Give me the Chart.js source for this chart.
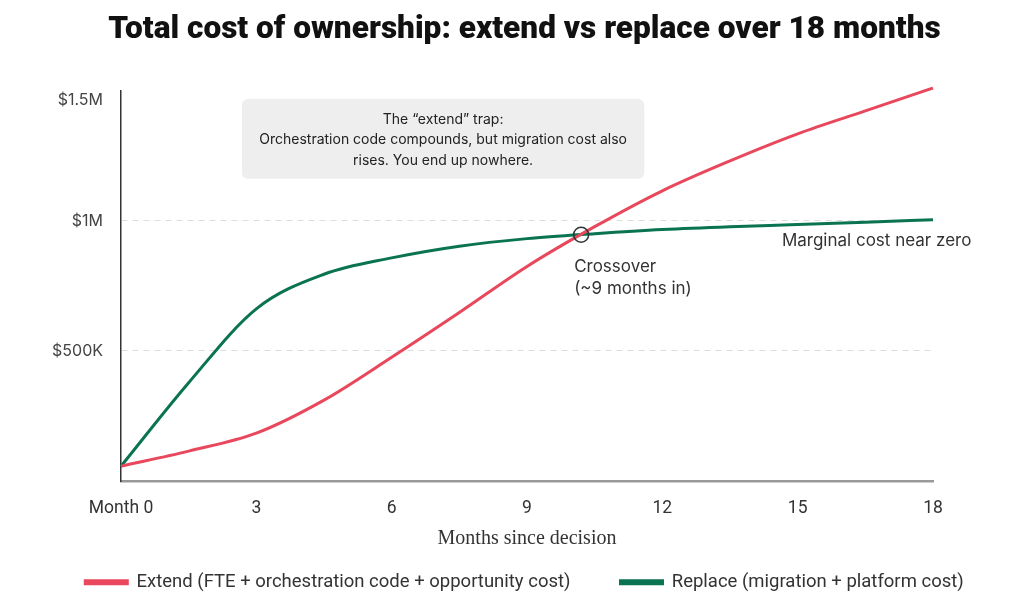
<!DOCTYPE html>
<html>
<head>
<meta charset="utf-8">
<script src="https://cdn.jsdelivr.net/npm/chart.js@4"></script>
<style>
  html, body { margin: 0; padding: 0; background: #fff; }
  canvas { display: block; }
</style>
</head>
<body>
<canvas id="c" width="1024" height="606"></canvas>
<script>
// ---- data ----
const months = [0, 1.5, 3, 4.5, 6, 7.5, 9, 10.5, 12, 13.5, 15, 16.5, 18];
const extendCost = [57000, 115000, 184000, 311000, 476000, 648000, 825000, 978000, 1116000, 1231000, 1335000, 1423000, 1511000];
const replaceCost = [57000, 378000, 662000, 795000, 858000, 903000, 932000, 951000, 967000, 978000, 986000, 995000, 1005000];
const yTickValues = [500000, 1000000, 1500000];
const yTickLabels = ['$500K', '$1M', '$1.5M'];
const seriesNames = ['Extend (FTE + orchestration code + opportunity cost)', 'Replace (migration + platform cost)'];
const titleText = 'Total cost of ownership: extend vs replace over 18 months';
const xTitle = 'Months since decision';
const crossover = { x: 10.2, y: 947000 };
const calloutLines = ['The \u201cextend\u201d trap:', 'Orchestration code compounds, but migration cost also', 'rises. You end up nowhere.'];
const crossoverLabel = ['Crossover', '(~9 months in)'];
const marginalLabel = 'Marginal cost near zero';

const RED = '#e8475c';
const GREEN = '#0a7352';

const pts = arr => months.map((m, i) => ({ x: m, y: arr[i] }));

const annotPlugin = {
  id: 'annot',
  afterDatasetsDraw(chart) {
    const { ctx, scales: { x, y } } = chart;
    ctx.save();
    // callout box
    const bx = x.getPixelForValue(2.68), by = y.getPixelForValue(1469000);
    const bx2 = x.getPixelForValue(11.6), by2 = y.getPixelForValue(1162000);
    ctx.fillStyle = '#eeeeee';
    ctx.beginPath();
    ctx.roundRect(bx, by, bx2 - bx, by2 - by, 6);
    ctx.fill();
    ctx.fillStyle = '#222';
    ctx.font = '14px Inter';
    ctx.textAlign = 'center';
    ctx.textBaseline = 'middle';
    const cx = (bx + bx2) / 2;
    calloutLines.forEach((t, i) => ctx.fillText(t, cx, by + 20.5 + i * 20.5));
    // crossover circle
    const px = x.getPixelForValue(crossover.x), py = y.getPixelForValue(crossover.y);
    ctx.strokeStyle = '#333';
    ctx.lineWidth = 1.5;
    ctx.beginPath();
    ctx.arc(px, py, 7.5, 0, Math.PI * 2);
    ctx.stroke();
    ctx.fillStyle = '#333';
    ctx.font = '17px Inter';
    ctx.textAlign = 'left';
    ctx.fillText(crossoverLabel[0], px - 7, py + 32);
    ctx.fillText(crossoverLabel[1], px - 7, py + 54);
    // marginal label
    ctx.fillText(marginalLabel, x.getPixelForValue(14.65), y.getPixelForValue(924000));
    ctx.restore();
  }
};

new Chart(document.getElementById('c'), {
  type: 'line',
  data: {
    datasets: [
      { label: seriesNames[0], data: pts(extendCost), borderColor: RED, backgroundColor: RED, borderWidth: 3, pointRadius: 0, cubicInterpolationMode: 'monotone', clip: false },
      { label: seriesNames[1], data: pts(replaceCost), borderColor: GREEN, backgroundColor: GREEN, borderWidth: 3, pointRadius: 0, cubicInterpolationMode: 'monotone', clip: false }
    ]
  },
  plugins: [annotPlugin],
  options: {
    responsive: false,
    animation: false,
    devicePixelRatio: 1,
    layout: { padding: { left: 25, right: 0, top: 0, bottom: 4.5 } },
    plugins: {
      title: {
        display: true, text: titleText, color: '#111',
        font: { family: 'Roboto', size: 31.6, weight: '900' },
        padding: { top: 11, bottom: 42 }
      },
      legend: {
        position: 'bottom',
        labels: {
          color: '#333', font: { family: 'Roboto', size: 18.5 },
          boxWidth: 42, boxHeight: 3, padding: 50
        }
      },
      tooltip: { enabled: false }
    },
    scales: {
      x: {
        type: 'linear', min: 0, max: 18,
        border: { display: true, color: '#999', width: 2.5 },
        grid: { display: false, drawTicks: false },
        ticks: {
          stepSize: 3, padding: 17, color: '#333',
          font: { family: 'Roboto', size: 17.5 },
          callback: v => (v === 0 ? 'Month 0' : String(v))
        },
        title: {
          display: true, text: xTitle, color: '#333',
          font: { family: 'Liberation Serif', size: 20 },
          padding: { top: -9, bottom: -28 }
        }
      },
      y: {
        min: 0, max: 1500000,
        afterFit(scale) { scale.width = 96; },
        afterBuildTicks(scale) { scale.ticks = [{ value: 0 }].concat(yTickValues.map(v => ({ value: v }))); },
        grid: {
          drawTicks: false,
          color: ctx => (ctx.tick && (ctx.tick.value === 500000 || ctx.tick.value === 1000000)) ? '#dddddd' : 'rgba(0,0,0,0)',
          lineWidth: 1
        },
        border: { display: true, color: '#333', width: 1.5, dash: [6, 5] },
        ticks: {
          padding: 18, color: '#444',
          font: { family: 'Inter', size: 16 },
          callback: v => {
            const i = yTickValues.indexOf(v);
            if (i < 0) return '';
            return v === 1500000 ? ['', yTickLabels[i]] : yTickLabels[i];
          }
        }
      },
      yRightSpace: {
        position: 'right', display: true,
        afterFit(scale) { scale.width = 91; },
        grid: { display: false, drawTicks: false },
        border: { display: false },
        ticks: { display: false }
      }
    }
  }
});
</script>
</body>
</html>
